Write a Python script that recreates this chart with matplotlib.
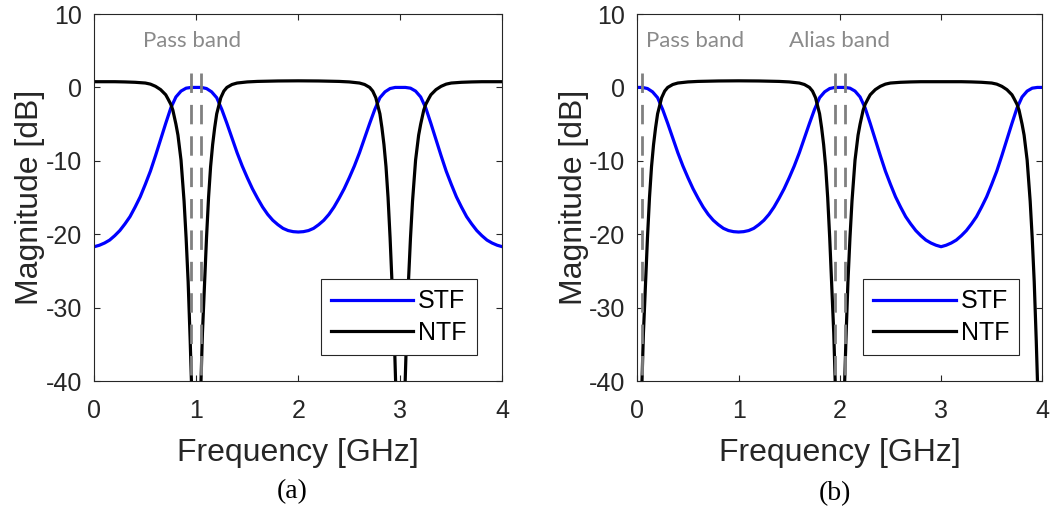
import numpy as np
import matplotlib
matplotlib.use("Agg")
import matplotlib.pyplot as plt

plt.rcParams['font.family'] = ['Liberation Sans', 'DejaVu Sans']
plt.rcParams['axes.unicode_minus'] = False

# ==========================
# Data (dB vs GHz)
# ==========================
f_grid = np.round(np.arange(0, 4.001, 0.05), 3)

# (a) signal transfer function, one value per f_grid point
stf_a = [-21.7, -21.5, -21.2, -20.8, -20.2, -19.5, -18.6, -17.6, -16.3, -14.9,
         -13.2, -11.4, -9.3, -7.1, -4.9, -2.8, -1.3, -0.5, -0.1, 0.0,
         0.0, 0.0, -0.15, -0.6, -1.4, -3.0, -4.9, -6.9, -8.9, -10.7,
         -12.3, -13.8, -15.1, -16.3, -17.3, -18.1, -18.7, -19.2, -19.5, -19.65,
         -19.7, -19.65, -19.5, -19.2, -18.7, -18.1, -17.3, -16.3, -15.1, -13.8,
         -12.3, -10.7, -8.9, -6.9, -4.9, -3.0, -1.4, -0.6, -0.15, 0.0,
         0.0, 0.0, -0.1, -0.5, -1.3, -2.8, -4.9, -7.1, -9.3, -11.4,
         -13.2, -14.9, -16.3, -17.6, -18.6, -19.5, -20.2, -20.8, -21.2, -21.5,
         -21.7]

# (b) signal transfer function
stf_b = [0.0, 0.0, -0.15, -0.6, -1.4, -3.0, -4.9, -6.9, -8.9, -10.7,
         -12.3, -13.8, -15.1, -16.3, -17.3, -18.1, -18.7, -19.2, -19.5, -19.65,
         -19.7, -19.65, -19.5, -19.2, -18.7, -18.1, -17.3, -16.3, -15.1, -13.8,
         -12.3, -10.7, -8.9, -6.9, -4.9, -3.0, -1.4, -0.6, -0.15, 0.0,
         0.0, 0.0, -0.1, -0.5, -1.3, -2.8, -4.9, -7.1, -9.3, -11.4,
         -13.2, -14.9, -16.3, -17.6, -18.6, -19.5, -20.2, -20.8, -21.2, -21.5,
         -21.7, -21.5, -21.2, -20.8, -20.2, -19.5, -18.6, -17.6, -16.3, -14.9,
         -13.2, -11.4, -9.3, -7.1, -4.9, -2.8, -1.3, -0.5, -0.1, 0.0,
         0.0]

# (a) noise transfer function (notches at 1 and 3 GHz go below the axis)
ntf_freq_a = [0, 0.2, 0.3, 0.4, 0.5, 0.55, 0.6, 0.65, 0.7, 0.72, 0.75, 0.77, 0.8, 0.82,
              0.85, 0.88, 0.9, 0.92, 0.94, 0.952, 1.0,
              1.046, 1.06, 1.08, 1.1, 1.12, 1.14, 1.16, 1.18, 1.2, 1.22, 1.24, 1.27,
              1.3, 1.35, 1.4, 1.5, 1.6, 1.8, 2.0,
              2.2, 2.4, 2.5, 2.6, 2.65, 2.7, 2.73, 2.76, 2.78, 2.8, 2.82, 2.84, 2.86,
              2.88, 2.9, 2.92, 2.94, 2.954, 3.0,
              3.048, 3.06, 3.08, 3.1, 3.12, 3.15, 3.18, 3.2, 3.23, 3.25, 3.28, 3.3,
              3.35, 3.4, 3.45, 3.5, 3.6, 3.7, 3.8, 4.0]
ntf_a = [0.78, 0.78, 0.75, 0.7, 0.6, 0.45, 0.15, -0.3, -1.0, -1.5, -2.3, -3.1, -5.0, -6.5,
         -9.9, -15.5, -20.5, -26.5, -34.5, -40, -60,
         -40, -33.5, -27, -20.5, -15, -10.8, -7.8, -5.5, -3.6, -2.5, -1.4, -0.5,
         0.0, 0.4, 0.6, 0.75, 0.82, 0.88, 0.9,
         0.88, 0.82, 0.75, 0.6, 0.4, 0.0, -0.5, -1.4, -2.5, -3.6, -5.5, -7.8, -10.8,
         -15, -20.5, -27, -33.5, -40, -60,
         -40, -34.5, -26.5, -20.5, -15.5, -9.9, -6.5, -5.0, -3.1, -2.3, -1.5, -1.0,
         -0.3, 0.15, 0.45, 0.6, 0.7, 0.75, 0.78, 0.78]

# (b) noise transfer function (notches at 0, 2 and 4 GHz)
ntf_freq_b = [0, 0.046, 0.06, 0.08, 0.1, 0.12, 0.14, 0.16, 0.18, 0.2, 0.22, 0.24, 0.27,
              0.3, 0.35, 0.4, 0.5, 0.6, 0.8, 1.0,
              1.2, 1.4, 1.5, 1.6, 1.65, 1.7, 1.73, 1.76, 1.78, 1.8, 1.82, 1.84, 1.86,
              1.88, 1.9, 1.92, 1.94, 1.954, 2.0,
              2.048, 2.06, 2.08, 2.1, 2.12, 2.15, 2.18, 2.2, 2.23, 2.25, 2.28, 2.3,
              2.35, 2.4, 2.45, 2.5, 2.6, 2.7, 2.8, 3.0,
              3.2, 3.3, 3.4, 3.5, 3.55, 3.6, 3.65, 3.7, 3.72, 3.75, 3.77, 3.8, 3.82,
              3.85, 3.88, 3.9, 3.92, 3.94, 3.952, 4.0]
ntf_b = [-60, -40, -33.5, -27, -20.5, -15, -10.8, -7.8, -5.5, -3.6, -2.5, -1.4, -0.5,
         0.0, 0.4, 0.6, 0.75, 0.82, 0.88, 0.9,
         0.88, 0.82, 0.75, 0.6, 0.4, 0.0, -0.5, -1.4, -2.5, -3.6, -5.5, -7.8, -10.8,
         -15, -20.5, -27, -33.5, -40, -60,
         -40, -34.5, -26.5, -20.5, -15.5, -9.9, -6.5, -5.0, -3.1, -2.3, -1.5, -1.0,
         -0.3, 0.15, 0.45, 0.6, 0.7, 0.75, 0.78, 0.78,
         0.78, 0.75, 0.7, 0.6, 0.45, 0.15, -0.3, -1.0, -1.5, -2.3, -3.1, -5.0, -6.5,
         -9.9, -15.5, -20.5, -26.5, -34.5, -40, -60]

# band edges (dashed markers) and their labels
edges_a = [0.95, 1.05]
edges_b = [0.05, 1.95, 2.05]
band_labels_a = [("Pass band", 0.48)]
band_labels_b = [("Pass band", 0.085), ("Alias band", 1.5)]

x_ticks = [0, 1, 2, 3, 4]
y_ticks = [-40, -30, -20, -10, 0, 10]


def draw_panel(ax, stf, ntf_f, ntf, edges, band_labels, legend_x):
    ax.plot(f_grid, stf, color="#0000ff", linewidth=2.3, label="STF")
    ax.plot(ntf_f, ntf, color="black", linewidth=2.3, label="NTF")
    for e in edges:
        ax.plot([e, e], [2, -40], color="#808080", linewidth=2.0,
                linestyle=(0, (7, 4.3)))
    for txt, xpos in band_labels:
        ax.text(xpos, 5.55, txt, color="#8a8a8a", fontsize=16,
                family=["Lato", "DejaVu Sans"], ha="left", va="baseline")

    ax.set_xlim(0, 4)
    ax.set_ylim(-40, 10)
    ax.set_xticks(x_ticks)
    ax.set_yticks(y_ticks)
    ax.tick_params(direction="in", length=4, width=0.8, color="0.15",
                   labelsize=18, labelcolor="0.15", top=True, right=True)
    ax.tick_params(axis="x", pad=13)
    ax.tick_params(axis="y", pad=9)
    for sp in ax.spines.values():
        sp.set_color("0.15")
        sp.set_linewidth(0.8)

    ax.set_xlabel("Frequency [GHz]", fontsize=23, color="0.15")
    ax.xaxis.set_label_coords(0.5, -0.155)
    ax.set_ylabel("Magnitude [dB]", fontsize=23, color="0.15")
    ax.yaxis.set_label_coords(-0.12, 0.5)

    leg = ax.legend(loc="lower right", bbox_to_anchor=(legend_x, 0.071),
                    fontsize=18, handlelength=3.3, handletextpad=0.2,
                    borderpad=0.4, labelspacing=0.3, borderaxespad=0,
                    fancybox=False, framealpha=1)
    leg.get_frame().set_edgecolor("0.15")
    leg.get_frame().set_linewidth(0.8)


fig = plt.figure(figsize=(10.61, 5.16), dpi=100)
ax_a = fig.add_axes([0.0889, 0.2616, 0.3845, 0.7112])
ax_b = fig.add_axes([0.6007, 0.2616, 0.3817, 0.7112])

draw_panel(ax_a, stf_a, ntf_freq_a, ntf_a, edges_a, band_labels_a, 0.937)
draw_panel(ax_b, stf_b, ntf_freq_b, ntf_b, edges_b, band_labels_b, 0.9425)

fig.text(292 / 1061, 0.0465, "(a)", fontsize=20, ha="center", va="center",
         family=["Liberation Serif", "DejaVu Serif"])
fig.text(835 / 1061, 0.043, "(b)", fontsize=20, ha="center", va="center",
         family=["Liberation Serif", "DejaVu Serif"])

plt.savefig("out.png", dpi=100)
